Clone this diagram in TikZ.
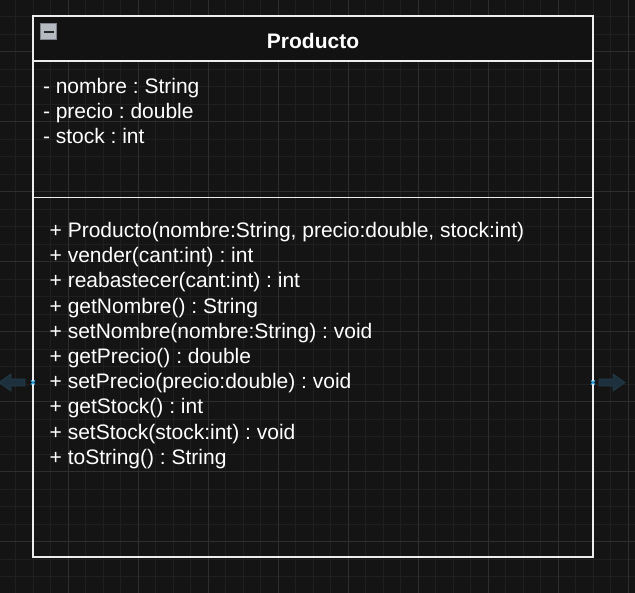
\documentclass[tikz,border=0pt]{standalone}
\usepackage{fontspec}
\setmainfont{Liberation Sans}
\frenchspacing
\definecolor{bgcol}{HTML}{141414}
\definecolor{gridminor}{HTML}{1F1F1F}
\definecolor{gridmajor}{HTML}{2E2E2E}
\definecolor{framecol}{HTML}{EDEDED}
\definecolor{headfill}{HTML}{121212}
\definecolor{arrowfill}{HTML}{1C313D}
\definecolor{arrowline}{HTML}{243A47}
\definecolor{markcol}{HTML}{2E9FDA}
\definecolor{iconfill}{HTML}{B4B9C2}
\definecolor{iconline}{HTML}{7E838B}
\begin{document}
\begin{tikzpicture}[x=1pt,y=-1pt,
  minorgrid/.style={draw=gridminor,line width=0.9pt},
  majorgrid/.style={draw=gridmajor,line width=0.9pt},
  frame/.style={draw=framecol,line width=1.7pt},
  member/.style={anchor=base west,inner sep=0pt,text=white,font=\fontsize{21}{25}\selectfont},
  titletext/.style={anchor=base,inner sep=0pt,text=white,font=\fontsize{21}{25}\selectfont\bfseries},
  hoverarrow/.style={fill=arrowfill,draw=arrowline,line width=0.8pt},
  portmark/.style={draw=markcol,line width=1.3pt}
]
% background
\fill[bgcol] (0,0) rectangle (635,593);
\useasboundingbox (0,0) rectangle (635,593);
% grid
\foreach \i in {0,...,37} {
  \draw[minorgrid] ({-1.7+17.5*\i},0) -- ({-1.7+17.5*\i},593);
  \draw[minorgrid] (0,{-0.8+17.5*\i}) -- (635,{-0.8+17.5*\i});
}
\foreach \i in {0,...,9} {
  \draw[majorgrid] ({-1.7+70*\i},0) -- ({-1.7+70*\i},593);
  \draw[majorgrid] (0,{-18.3+70*\i}) -- (635,{-18.3+70*\i});
}
% class box
\fill[headfill] (33,16) rectangle (593,61);
\draw[frame] (33,16) rectangle (593,557);
\draw[frame] (33,61) -- (593,61);
\draw[frame] (33,197.5) -- (593,197.5);
% collapse icon
\node[draw=iconline,line width=0.8pt,fill=iconfill,minimum size=15.5pt,inner sep=0pt] (icon) at (48.5,31.5) {};
\fill[black!85] (44.3,30.6) rectangle (53.8,32.8);
% title
\node[titletext] (title) at (313,48.5) {Producto};
% attributes
\node[member] (a1) at (42.8,93.5) {- nombre : String};
\node[member] (a2) at (42.8,118.5) {- precio : double};
\node[member] (a3) at (42.8,143.5) {- stock : int};
% methods
\node[member] (m1) at (49.5,{237.5+25.2*0}) {+ Producto(nombre:String, precio:double, stock:int)};
\node[member] (m2) at (49.5,{237.5+25.2*1}) {+ vender(cant:int) : int};
\node[member] (m3) at (49.5,{237.5+25.2*2}) {+ reabastecer(cant:int) : int};
\node[member] (m4) at (49.5,{237.5+25.2*3}) {+ getNombre() : String};
\node[member] (m5) at (49.5,{237.5+25.2*4}) {+ setNombre(nombre:String) : void};
\node[member] (m6) at (49.5,{237.5+25.2*5}) {+ getPrecio() : double};
\node[member] (m7) at (49.5,{237.5+25.2*6}) {+ setPrecio(precio:double) : void};
\node[member] (m8) at (49.5,{237.5+25.2*7}) {+ getStock() : int};
\node[member] (m9) at (49.5,{237.5+25.2*8}) {+ setStock(stock:int) : void};
\node[member] (m10) at (49.5,{237.5+25.2*9}) {+ toString() : String};
% hover arrows
\draw[hoverarrow] (-1,382.5) -- (11,374) -- (11,379) -- (25,379) -- (25,386) -- (11,386) -- (11,391) -- cycle;
\draw[hoverarrow] (625,382.5) -- (613,374) -- (613,379) -- (599,379) -- (599,386) -- (613,386) -- (613,391) -- cycle;
% connection points
\draw[portmark] (31,380.5) -- (35,384.5) (31,384.5) -- (35,380.5);
\draw[portmark] (591,380.5) -- (595,384.5) (591,384.5) -- (595,380.5);
\end{tikzpicture}
\end{document}
